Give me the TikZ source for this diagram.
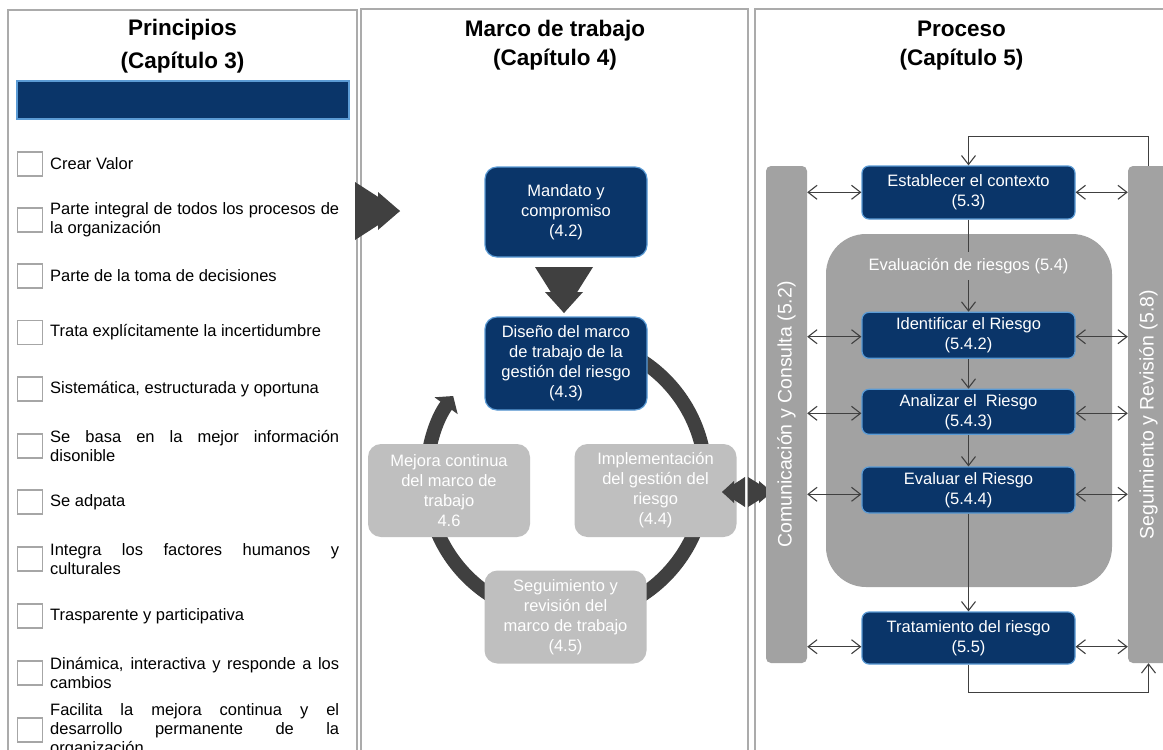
\documentclass[tikz,border=0pt]{standalone}
\usepackage{fontspec}
\setmainfont{Liberation Sans}
\usetikzlibrary{arrows.meta,calc}

\definecolor{navy}{HTML}{0A3569}
\definecolor{navyrim}{HTML}{5B9BD5}
\definecolor{softgray}{HTML}{BFBFBF}
\definecolor{bargray}{HTML}{A2A2A2}
\definecolor{ink}{HTML}{404040}
\definecolor{framegray}{HTML}{ABABAB}
\definecolor{tickgray}{HTML}{A6A6A6}

\tikzset{
  panel/.style={draw=framegray, line width=1.2pt},
  headtitle/.style={font=\bfseries\fontsize{22.5}{29}\selectfont, align=center, inner sep=0pt},
  tick/.style={draw=tickgray, line width=1.3pt, minimum width=25pt, minimum height=24pt, inner sep=0pt},
  principle/.style={anchor=west, inner sep=0pt, text width=289pt, align=justify,
    font=\fontsize{16.5}{19}\selectfont},
  navybox/.style={draw=navyrim, fill=navy, line width=1.2pt, rounded corners=12pt, text=white,
    align=center, font=\fontsize{16.5}{20}\selectfont, inner sep=0pt},
  softbox/.style={fill=softgray, rounded corners=13pt, text=white, align=center,
    font=\fontsize{16.5}{20}\selectfont, inner sep=0pt, minimum width=162pt, minimum height=93pt},
  procbox/.style={draw=navyrim, fill=navy, line width=1.2pt, rounded corners=7pt, text=white,
    align=center, font=\fontsize{16.5}{20}\selectfont, minimum width=213pt, inner sep=0pt},
  sidebar/.style={fill=bargray, rounded corners=5pt, rotate=90, minimum width=497pt,
    minimum height=41pt, inner sep=0pt, text=white, font=\fontsize{19.5}{22}\selectfont},
  plain/.style={draw=ink, line width=1.1pt},
  flow/.style={plain, -{Straight Barb[length=9pt,width=14pt]}},
  twoway/.style={plain, {Straight Barb[length=9pt,width=14pt]}-{Straight Barb[length=9pt,width=14pt]}},
  block/.style={fill=ink},
}

\begin{document}
\hyphenpenalty=10000
\exhyphenpenalty=10000
\tolerance=10000
\hbadness=10000
\begin{tikzpicture}[x=1pt, y=-1pt]
\useasboundingbox (0,0) rectangle (1163,750);
\clip (0,0) rectangle (1163,750);
\fill[white] (0,0) rectangle (1163,750);

% three panels
\draw[panel] (8,10) rectangle (357,770);
\draw[panel] (361,9) rectangle (748,770);
\draw[panel] (755,9) rectangle (1180,770);

\node[headtitle] (ttlA) at (182.5,46) {Principios\\[4pt](Capítulo 3)};
\node[headtitle] (ttlB) at (555,45.5) {Marco de trabajo\\(Capítulo 4)};
\node[headtitle] (ttlC) at (961.5,45.5) {Proceso\\(Capítulo 5)};

% ---------- principles ----------
\node[draw=navyrim, fill=navy, line width=1.2pt, minimum width=332pt, minimum height=38pt,
  inner sep=0pt] (ribbon) at (183,100) {};

\foreach \k/\yy/\txt in {
  1/164/{Crear Valor},
  2/220/{Parte integral de todos los procesos de\linebreak la organización},
  3/276/{Parte de la toma de decisiones},
  4/332.5/{Trata explícitamente la incertidumbre},
  5/389/{Sistemática, estructurada y oportuna},
  6/446/{Se basa en la mejor información\linebreak disonible},
  7/502/{Se adpata},
  8/559/{Integra los factores humanos y\linebreak culturales},
  9/616/{Trasparente y participativa},
  10/673/{Dinámica, interactiva y responde a los\linebreak cambios},
  11/730/{Facilita la mejora continua y el\linebreak desarrollo permanente de la\linebreak organización}} {
  \node[tick] (tick\k) at (30,\yy) {};
  \node[principle] (item\k) at (50,\yy) {\txt};
}

% double chevron into the framework
\fill[block] (355,182) -- (355,240) -- (400,211) -- cycle;
\fill[block] (378,192) -- (378,230) -- (400,211) -- cycle;

% ---------- framework cycle ----------
\coordinate (hub) at (566,478);
\draw[ink, line width=14pt, -{Triangle[length=12pt,width=28pt]}]
  (hub) ++(-90:139.5) arc[start angle=-90, end angle=216, radius=139.5];

\node[navybox, minimum width=162pt, minimum height=90pt] (mandate) at (566,212)
  {Mandato y\\compromiso\\(4.2)};
\node[navybox, minimum width=162pt, minimum height=93pt] (design) at (566,363.5)
  {Diseño del marco\\de trabajo de la\\gestión del riesgo\\(4.3)};
\node[softbox] (improve) at (449,490.5) {Mejora continua\\del marco de\\trabajo\\4.6};
\node[softbox] (deploy) at (655.5,490.5) {Implementación\\del gestión del\\riesgo\\(4.4)};
\node[softbox] (review) at (565.5,617) {Seguimiento y\\revisión del\\marco de trabajo\\(4.5)};

% chevron from mandate down to design
\fill[block] (535,267) -- (593,267) -- (564,313) -- cycle;
\fill[block] (545,292) -- (583,292) -- (564,313) -- cycle;

% two-way chevrons between framework and process
\fill[block] (745,477) -- (745,507) -- (722,492) -- cycle;
\fill[block] (734,481) -- (734,503) -- (722,492) -- cycle;
\fill[block] (748,477) -- (748,507) -- (772,492) -- cycle;
\fill[block] (759,481) -- (759,503) -- (772,492) -- cycle;

% ---------- process ----------
\node[sidebar] (cc) at (786.5,414.5) {Comunicación y Consulta (5.2)};
\node[sidebar] (rb) at (1148.5,414.5) {Seguimiento y Revisión (5.8)};

\node[fill=bargray, rounded corners=40pt, minimum width=286pt, minimum height=353pt,
  inner sep=0pt] (assess) at (969,410.5) {};
\node[text=white, font=\fontsize{16.5}{20}\selectfont, inner xsep=2pt, inner ysep=6.5pt]
  (evalnote) at (968.5,266) {Evaluación de riesgos (5.4)};

\node[procbox, minimum height=53pt] (ctx) at (968.5,192.5) {Establecer el contexto\\(5.3)};
\node[procbox, minimum height=46pt] (idr) at (968.5,335.3) {Identificar el Riesgo\\(5.4.2)};
\node[procbox, minimum height=45pt] (anr) at (968.5,411.8) {Analizar el\ \ Riesgo\\(5.4.3)};
\node[procbox, minimum height=46pt] (evr) at (968.5,490) {Evaluar el Riesgo\\(5.4.4)};
\node[procbox, minimum height=52pt] (trt) at (968.5,638) {Tratamiento del riesgo\\(5.5)};

\draw[plain] (ctx.south) -- (evalnote.north);
\draw[flow] (evalnote.south) -- (idr.north);
\draw[flow] (idr.south) -- (anr.north);
\draw[flow] (anr.south) -- (evr.north);
\draw[flow] (evr.south) -- (trt.north);

% links to the two side bars (rotated: south = right edge, north = left edge)
\foreach \nm/\yy in {ctx/192.3, idr/336.7, anr/413.3, evr/494.3, trt/646.7} {
  \draw[twoway] (cc.south |- 0,\yy) -- (\nm.west |- 0,\yy);
  \draw[twoway] (\nm.east |- 0,\yy) -- (rb.north |- 0,\yy);
}

% feedback loops (rb.east = top, rb.west = bottom)
\draw[flow] (rb.east) -- ++(0,-29) -| (ctx.north);
\draw[flow] (trt.south) -- ++(0,28) -| (rb.west);
\end{tikzpicture}
\end{document}
